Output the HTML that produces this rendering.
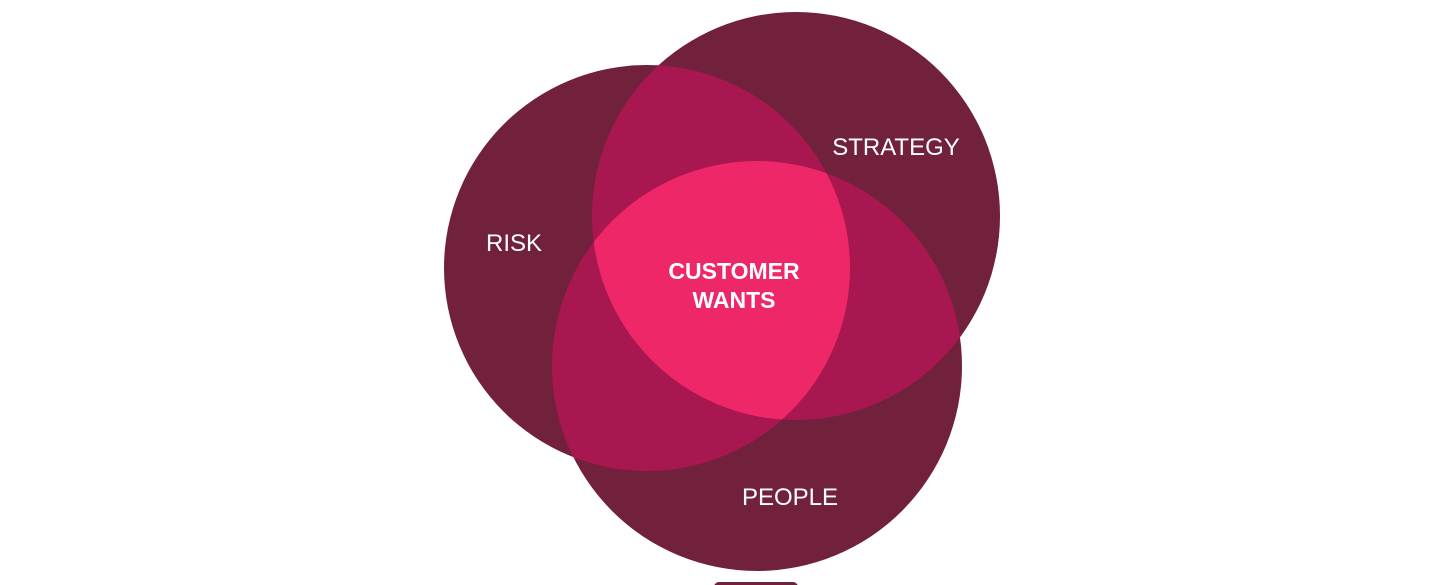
<!DOCTYPE html>
<html><head><meta charset="utf-8"><style>
html,body{margin:0;padding:0;background:#fff;width:1440px;height:585px;overflow:hidden}
svg{display:block}
</style></head><body>
<svg width="1440" height="585" viewBox="0 0 1440 585" xmlns="http://www.w3.org/2000/svg">
<defs>
<clipPath id="cR"><circle cx="647" cy="268" r="203"/></clipPath>
<clipPath id="cS"><circle cx="796" cy="216" r="204"/></clipPath>
<clipPath id="cP"><circle cx="757" cy="366" r="205"/></clipPath>
</defs>
<circle cx="647" cy="268" r="203" fill="#72213d"/>
<circle cx="796" cy="216" r="204" fill="#72213d"/>
<circle cx="757" cy="366" r="205" fill="#72213d"/>
<g clip-path="url(#cR)"><circle cx="796" cy="216" r="204" fill="#a8174f"/><circle cx="757" cy="366" r="205" fill="#a8174f"/></g>
<g clip-path="url(#cS)"><circle cx="757" cy="366" r="205" fill="#a8174f"/></g>
<g clip-path="url(#cR)"><g clip-path="url(#cS)"><circle cx="757" cy="366" r="205" fill="#ee2769"/></g></g>
<rect x="714" y="582" width="84" height="10" rx="5" fill="#72213d"/>
<g font-family="Liberation Sans, sans-serif" fill="#fff" text-anchor="middle">
<text x="896" y="155" font-size="24">STRATEGY</text>
<text x="514" y="251" font-size="24">RISK</text>
<text x="790" y="505" font-size="24">PEOPLE</text>
<text x="734" y="279" font-size="23" font-weight="bold">CUSTOMER</text>
<text x="734" y="308" font-size="23" font-weight="bold">WANTS</text>
</g>
</svg>
</body></html>
